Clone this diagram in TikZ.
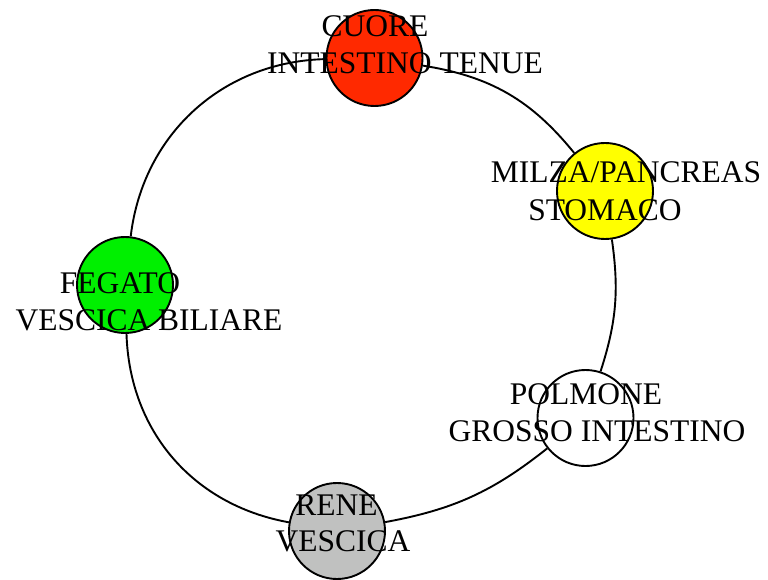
\documentclass[tikz,border=0pt]{standalone}
\usepackage{fontspec}
\setmainfont{Liberation Serif}
\usepackage{tikz}
\definecolor{OrganRed}{RGB}{255,41,0}
\definecolor{OrganYellow}{RGB}{255,255,0}
\definecolor{OrganGreen}{RGB}{0,240,0}
\definecolor{OrganGray}{RGB}{192,193,192}
\begin{document}
\begin{tikzpicture}[x=1pt,y=1pt,organ/.style={circle,draw,line width=1.9pt,minimum size=96pt,inner sep=0pt,fill=#1},lbl/.style={anchor=base,inner sep=0pt,font=\fontsize{31.5}{36.6}\selectfont},cycle/.style={line width=1.9pt}]
\useasboundingbox (0,0) rectangle (768,579);
\foreach \n/\x/\y/\c in %
{cuore/374.5/521/OrganRed,milza/605/388/OrganYellow,polmone/585.5/161/white,rene/337/48/OrganGray,fegato/125/294/OrganGreen} {
   \node[organ=\c](\n) at (\x,\y) {};
}
\foreach \n/\x/\y/\t in %
{cuoreA/375/542.3/CUORE,cuoreB/405/505.7/INTESTINO TENUE,milzaA/626/396/{MILZA/PANCREAS},milzaB/605/358.3/STOMACO,fegatoA/120/285/FEGATO,fegatoB/149/248.3/VESCICA BILIARE,polmoneA/586/175/POLMONE,polmoneB/597/137.3/GROSSO INTESTINO,reneA/336.5/64/RENE,reneB/343/27.3/VESCICA} {
   \node[lbl](\n) at (\x,\y) {\t};
}
\draw[cycle] (cuore) to[bend right=41] (fegato);
\draw[cycle] (fegato) to[bend right=39] (rene);
\draw[cycle] (rene) to[bend right=14] (polmone);
\draw[cycle] (polmone) to[bend right=13] (milza);
\draw[cycle] (milza) to[bend right=21] (cuore);
\end{tikzpicture}
\end{document}
